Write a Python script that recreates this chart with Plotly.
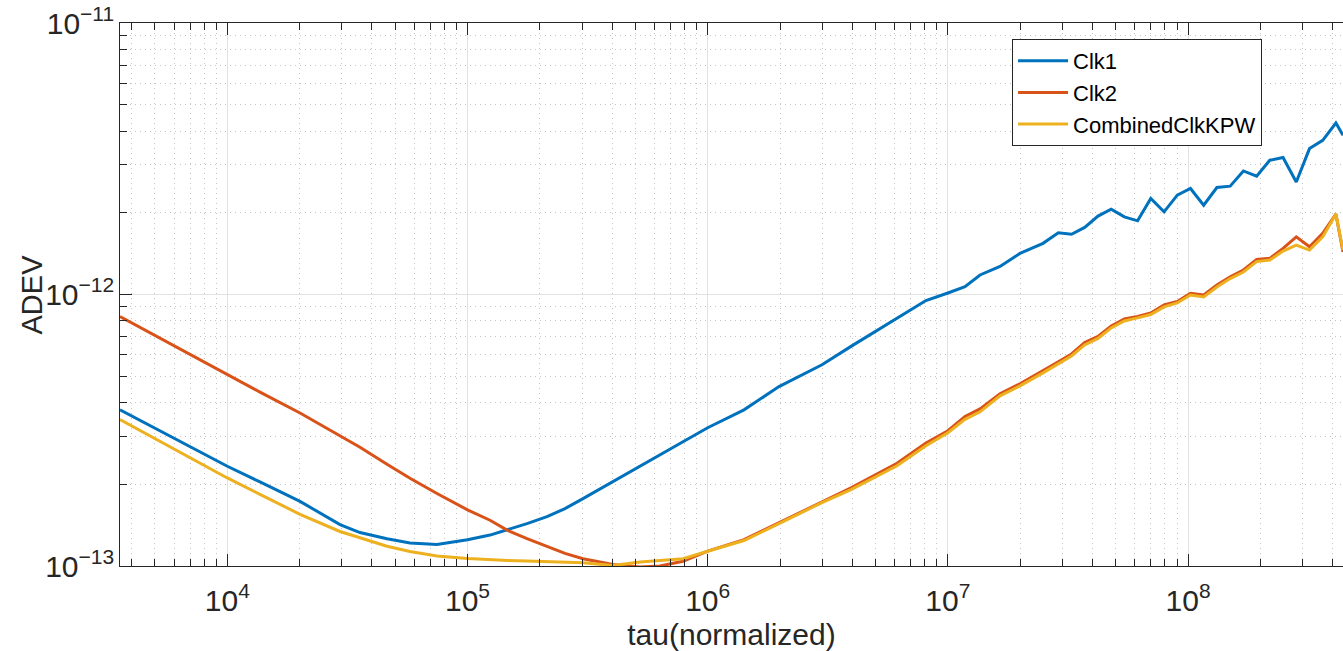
import plotly.graph_objects as go

tau = [3574, 5245, 7696, 1.0e4, 1.368e4, 2.008e4, 2.946e4, 3.568e4, 4.622e4, 5.763e4, 7.464e4, 1.0e5,
       1.241e5, 1.474e5, 1.769e5, 2.143e5, 2.546e5, 3.026e5, 4.034e5, 5.226e5, 6.33e5, 7.892e5, 1.0e6,
       1.416e6, 1.981e6, 2.991e6, 3.951e6, 6.14e6, 8.10e6, 1.0e7, 1.178e7, 1.361e7, 1.648e7, 1.996e7, 2.489e7,
       2.882e7, 3.270e7, 3.711e7, 4.216e7, 4.784e7, 5.429e7, 6.163e7, 6.992e7, 7.943e7, 9.016e7,
       1.023e8, 1.161e8, 1.318e8, 1.497e8, 1.699e8, 1.929e8, 2.189e8, 2.485e8, 2.821e8, 3.202e8,
       3.634e8, 4.124e8, 4.415e8]

clk1 = [3.76e-13, 3.15e-13, 2.64e-13, 2.33e-13, 2.04e-13, 1.73e-13, 1.42e-13, 1.328e-13, 1.26e-13, 1.215e-13, 1.20e-13, 1.25e-13,
        1.30e-13, 1.36e-13, 1.433e-13, 1.52e-13, 1.627e-13, 1.77e-13, 2.05e-13, 2.34e-13, 2.57e-13, 2.87e-13, 3.23e-13,
        3.76e-13, 4.58e-13, 5.51e-13, 6.44e-13, 8.20e-13, 9.50e-13, 1.013e-12, 1.068e-12, 1.18e-12, 1.268e-12, 1.417e-12, 1.543e-12,
        1.687e-12, 1.666e-12, 1.766e-12, 1.944e-12, 2.063e-12, 1.932e-12, 1.868e-12, 2.258e-12, 2.016e-12, 2.322e-12,
        2.457e-12, 2.133e-12, 2.478e-12, 2.506e-12, 2.852e-12, 2.728e-12, 3.123e-12, 3.195e-12, 2.598e-12, 3.447e-12,
        3.698e-12, 4.281e-12, 3.858e-12]

clk2 = [8.29e-13, 6.90e-13, 5.73e-13, 5.06e-13, 4.37e-13, 3.66e-13, 3.02e-13, 2.738e-13, 2.37e-13, 2.105e-13, 1.85e-13, 1.61e-13,
        1.474e-13, 1.35e-13, 1.262e-13, 1.18e-13, 1.113e-13, 1.064e-13, 1.013e-13, 9.92e-14, 1.0e-13, 1.041e-13, 1.135e-13,
        1.25e-13, 1.445e-13, 1.73e-13, 1.94e-13, 2.39e-13, 2.84e-13, 3.15e-13, 3.55e-13, 3.79e-13, 4.31e-13, 4.69e-13, 5.23e-13,
        5.65e-13, 6.04e-13, 6.66e-13, 7.01e-13, 7.66e-13, 8.13e-13, 8.30e-13, 8.55e-13, 9.15e-13, 9.43e-13,
        1.010e-12, 9.96e-13, 1.084e-12, 1.163e-12, 1.231e-12, 1.347e-12, 1.359e-12, 1.479e-12, 1.631e-12, 1.499e-12,
        1.679e-12, 1.977e-12, 1.433e-12]

combined = [3.46e-13, 2.88e-13, 2.39e-13, 2.11e-13, 1.835e-13, 1.55e-13, 1.34e-13, 1.272e-13, 1.183e-13, 1.131e-13, 1.088e-13, 1.066e-13,
            1.054e-13, 1.048e-13, 1.043e-13, 1.039e-13, 1.034e-13, 1.027e-13, 1.004e-13, 1.034e-13, 1.048e-13, 1.063e-13, 1.133e-13,
            1.241e-13, 1.433e-13, 1.712e-13, 1.911e-13, 2.341e-13, 2.773e-13, 3.096e-13, 3.470e-13, 3.698e-13, 4.235e-13, 4.609e-13, 5.146e-13,
            5.552e-13, 5.94e-13, 6.52e-13, 6.89e-13, 7.53e-13, 7.99e-13, 8.20e-13, 8.44e-13, 9.00e-13, 9.31e-13,
            9.96e-13, 9.79e-13, 1.066e-12, 1.145e-12, 1.210e-12, 1.322e-12, 1.339e-12, 1.445e-12, 1.521e-12, 1.458e-12,
            1.631e-12, 1.977e-12, 1.458e-12]

series_names = ["Clk1", "Clk2", "CombinedClkKPW"]
series_colors = ["#0072BD", "#D95319", "#EDB120"]

FONT = "Liberation Sans, Arial, Helvetica, sans-serif"
AX = "#262626"

fig = go.Figure()
for name, vals, col in zip(series_names, [clk1, clk2, combined], series_colors):
    fig.add_trace(go.Scatter(x=tau, y=vals, mode="lines", name=name,
                             line=dict(color=col, width=3)))

common = dict(
    type="log", showline=True, linecolor=AX, linewidth=1,
    ticks="inside", ticklen=12, tickcolor=AX, tickwidth=1,
    showgrid=True, gridcolor="#e2e2e2", gridwidth=1,
    exponentformat="power", showexponent="all", dtick=1,
    tickfont=dict(family=FONT, size=24, color=AX),
    minor=dict(ticks="inside", ticklen=7, tickcolor=AX, dtick="D1",
               showgrid=True, gridcolor="#c4c4c4", griddash="1px,4px", gridwidth=1),
    zeroline=False,
)

fig.update_xaxes(**common, range=[3.5533, 8.6449], mirror="allticks", ticklabelstandoff=9,
                 title=dict(text="tau(normalized)", font=dict(family=FONT, size=30, color=AX), standoff=8))
fig.update_yaxes(**common, range=[-13, -11], mirror=False)

fig.add_annotation(text="ADEV", textangle=-90, xref="paper", yref="paper",
                   x=0, y=0.5, xanchor="center", yanchor="middle", xshift=-89, showarrow=False,
                   font=dict(family=FONT, size=29, color=AX))

fig.update_layout(
    width=1343, height=651,
    margin=dict(l=120, r=0, t=23, b=85),
    paper_bgcolor="white", plot_bgcolor="white",
    font=dict(family=FONT, color=AX),
    legend=dict(x=0.7294, y=0.9705, xanchor="left", yanchor="top",
                bgcolor="white", bordercolor="#262626", borderwidth=1,
                font=dict(family=FONT, size=22, color="#000000"),
                itemwidth=50, tracegroupgap=0),
    showlegend=True,
)

fig.write_html("out.html")
